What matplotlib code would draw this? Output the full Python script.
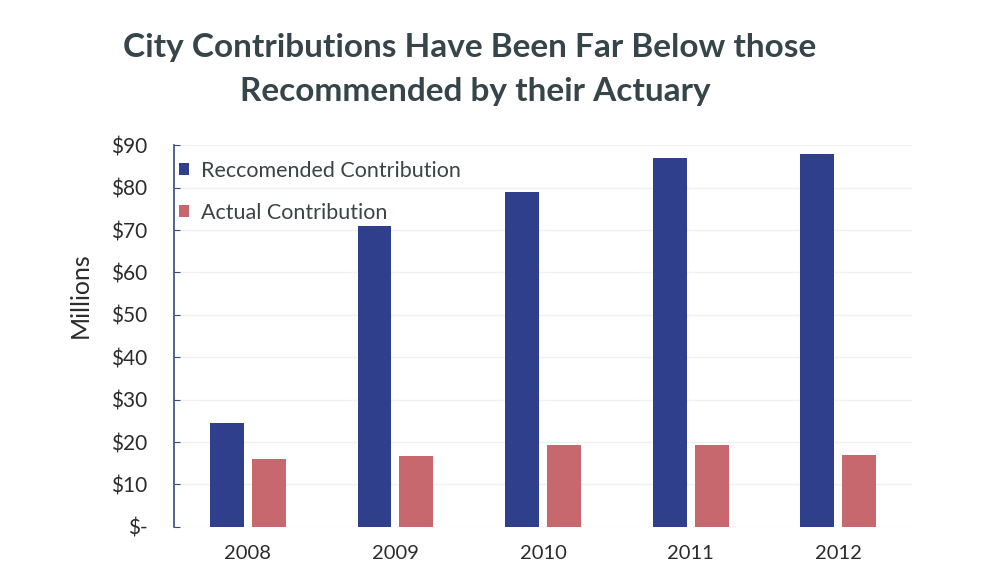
import matplotlib
matplotlib.use("Agg")
import matplotlib.pyplot as plt
import numpy as np

plt.rcParams['font.family'] = ['Lato', 'DejaVu Sans']

years = ["2008", "2009", "2010", "2011", "2012"]
recommended = [24.6, 71.0, 79.0, 87.1, 87.9]
actual = [16.0, 16.6, 19.3, 19.3, 17.0]
yticks = [0, 10, 20, 30, 40, 50, 60, 70, 80, 90]
ylabels = ["$-", "$10", "$20", "$30", "$40", "$50", "$60", "$70", "$80", "$90"]

blue = "#2f3f8c"
red = "#c6686d"
text_col = "#2b2b2b"

fig = plt.figure(figsize=(9.83, 5.88), dpi=100)
ax = fig.add_axes([0.177, 0.104, 0.751, 0.649])

x = np.arange(len(years))
w = 0.23
ax.bar(x - 0.142, recommended, w, color=blue, label="Reccomended Contribution")
ax.bar(x + 0.142, actual, w, color=red, label="Actual Contribution")

ax.set_xlim(-0.5, len(years) - 0.5)
ax.set_ylim(0, 90)
ax.set_yticks(yticks)
ax.set_yticklabels(ylabels)
ax.set_xticks(x)
ax.set_xticklabels(years)
ax.tick_params(axis='y', direction='in', length=4, color="#3a4a7a", labelsize=15,
               labelcolor=text_col, pad=19)
ax.tick_params(axis='x', length=0, labelsize=14.5, labelcolor=text_col, pad=13)

for s in ["top", "right", "bottom"]:
    ax.spines[s].set_visible(False)
ax.spines["left"].set_color("#3a4a7a")
ax.spines["left"].set_linewidth(1.2)

ax.yaxis.grid(True, color="#f1f1f1", linewidth=1)
ax.set_axisbelow(True)

fig.text(80 / 983, 1 - 295 / 588, "Millions", rotation=90, ha="center", va="center",
         fontsize=18, color=text_col)

ax.legend(loc="upper left", bbox_to_anchor=(-0.02, 1.01), frameon=False, fontsize=15.5,
          handlelength=0.5, handleheight=0.5, handletextpad=0.55,
          labelspacing=1.02, labelcolor="#3a4444")

fig.text(0.478, 0.92, "City Contributions Have Been Far Below those",
         ha="center", va="center", fontsize=24, fontweight="bold", color="#36454a")
fig.text(0.484, 0.845, "Recommended by their Actuary",
         ha="center", va="center", fontsize=24, fontweight="bold", color="#36454a")

fig.savefig("out.png", dpi=100, facecolor="white")
